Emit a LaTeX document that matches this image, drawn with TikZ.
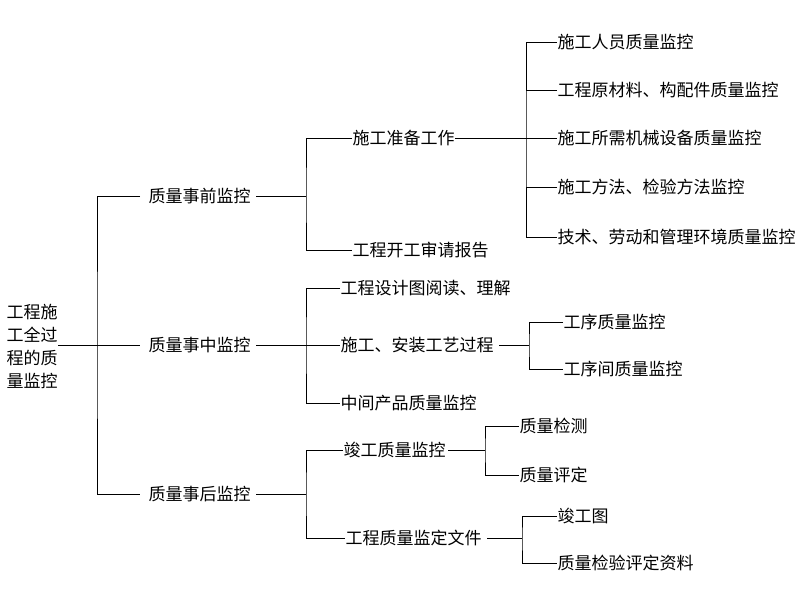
\documentclass[tikz,border=0pt]{standalone}
\usepackage{fontspec}
\setmainfont{Noto Sans CJK SC}
\begin{document}
\begin{tikzpicture}[x=1pt,y=-1pt,line width=1pt,
  lbl/.style={anchor=west,inner sep=0pt,font=\fontsize{17}{23}\selectfont},
  conn/.style={draw=black,line width=1pt}]
\useasboundingbox[fill=white] (0,0) rectangle (802,595);
% root
\node[lbl,align=left] (R) at (6,346) {工程施\\工全过\\程的质\\量监控};
% level 1
\node[lbl] (a1) at (148,196) {质量事前监控};
\node[lbl] (a2) at (148,345) {质量事中监控};
\node[lbl] (a3) at (148,494) {质量事后监控};
\coordinate (b1) at (97,345);
\draw[conn] (R.east |- b1) -- ([xshift=-8pt]a2.west);
\draw[conn] ([xshift=-8pt]a1.west) -| (b1) |- ([xshift=-8pt]a3.west);
% 事前
\node[lbl] (p1) at (352,138) {施工准备工作};
\node[lbl] (p2) at (352,250) {工程开工审请报告};
\coordinate (c1) at (306,196);
\draw[conn] ([xshift=5pt]a1.east) -- (c1);
\draw[conn] (p1.west) -| (c1) |- (p2.west);
\node[lbl] (q1) at (557,42) {施工人员质量监控};
\node[lbl] (q2) at (557,90) {工程原材料、构配件质量监控};
\node[lbl] (q3) at (557,138) {施工所需机械设备质量监控};
\node[lbl] (q4) at (557,187) {施工方法、检验方法监控};
\node[lbl] (q5) at (557,237) {技术、劳动和管理环境质量监控};
\coordinate (c2) at (526,138);
\draw[conn] (p1.east) -- (q3.west);
\draw[conn] (q1.west) -| (c2) |- (q5.west);
\draw[conn] (q2.west) -- (q2.west -| c2);
\draw[conn] (q4.west) -- (q4.west -| c2);
% 事中
\node[lbl] (r1) at (340,288) {工程设计图阅读、理解};
\node[lbl] (r2) at (340,345) {施工、安装工艺过程};
\node[lbl] (r3) at (340,403) {中间产品质量监控};
\coordinate (c3) at (306,345);
\draw[conn] ([xshift=5pt]a2.east) -- (r2.west);
\draw[conn] (r1.west) -| (c3) |- (r3.west);
\node[lbl] (s1) at (563,322) {工序质量监控};
\node[lbl] (s2) at (563,369) {工序间质量监控};
\coordinate (c4) at (529,345);
\draw[conn] ([xshift=5pt]r2.east) -- (c4);
\draw[conn] (s1.west) -| (c4) |- (s2.west);
% 事后
\node[lbl] (t1) at (343,450) {竣工质量监控};
\node[lbl] (t2) at (345,538) {工程质量监定文件};
\coordinate (c5) at (306,494);
\draw[conn] ([xshift=5pt]a3.east) -- (c5);
\draw[conn] (t1.west) -| (c5) |- (t2.west);
\node[lbl] (u1) at (519,426) {质量检测};
\node[lbl] (u2) at (519,475) {质量评定};
\coordinate (c6) at (485,450);
\draw[conn] ([xshift=2pt]t1.east) -- (c6);
\draw[conn] (u1.west) -| (c6) |- (u2.west);
\node[lbl] (v1) at (557,516) {竣工图};
\node[lbl] (v2) at (557,563) {质量检验评定资料};
\coordinate (c7) at (522,538);
\draw[conn] ([xshift=5pt]t2.east) -- (c7);
\draw[conn] (v1.west) -| (c7) |- (v2.west);
\end{tikzpicture}
\end{document}
